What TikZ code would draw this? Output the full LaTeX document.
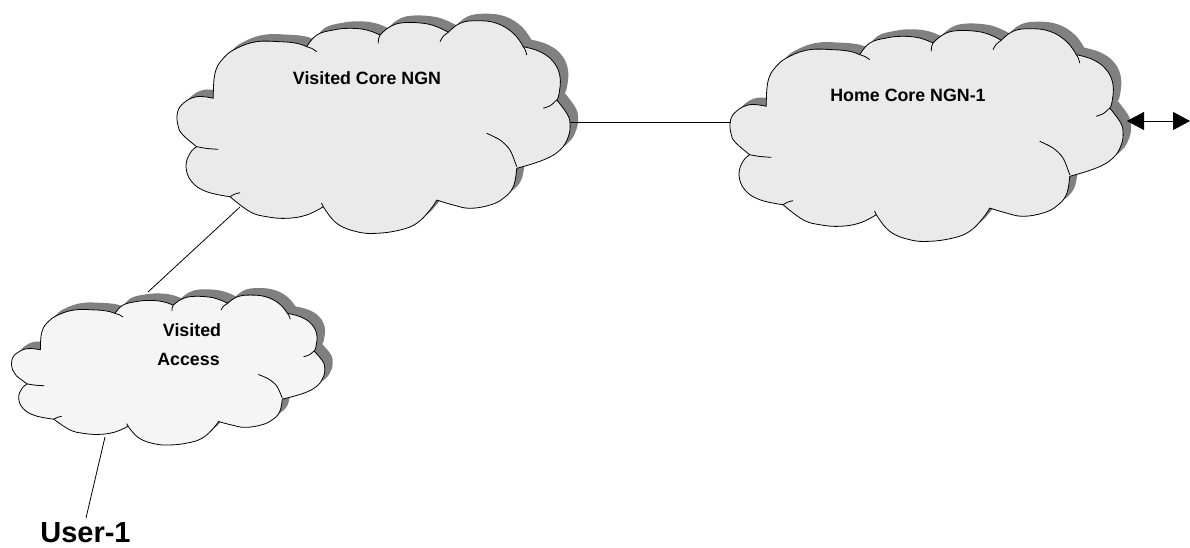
\documentclass[tikz,border=0pt]{standalone}
\usepackage{fontspec}
\setmainfont{Liberation Sans}
\usetikzlibrary{arrows.meta}

\definecolor{cloudshade}{HTML}{808080}
\definecolor{corefill}{HTML}{EAEAEA}
\definecolor{accfill}{HTML}{F5F5F5}

% Outline of the network cloud, in its own 393 x 212 frame
\newcommand\cloudoutline{%
  plot[smooth,tension=0.7] coordinates {(19.7,124.7) (6,113) (1.3,104.7) (0.3,91.3) (6.3,81.3) (19.7,74.7) (36.3,76.3)}
  -- plot[smooth,tension=0.7] coordinates {(36.3,76.3) (38,51.3) (46.3,36.3) (59.7,26.3) (79.7,19.7) (103,19.7) (119.7,21.3) (129.7,24.7)}
  -- plot[smooth,tension=0.7] coordinates {(129.7,24.7) (139.7,13) (156.3,8) (173,6.3) (189.7,8) (203,13)}
  -- plot[smooth,tension=0.7] coordinates {(203,13) (213,4.7) (226.3,0.7) (246.3,1.3) (259.7,4.7) (271.3,10.3)}
  -- plot[smooth,tension=0.7] coordinates {(271.3,10.3) (283,1.3) (299.7,-1.3) (319.7,1.3) (336.3,11.3) (346.3,24.7)}
  -- plot[smooth,tension=0.7] coordinates {(346.3,24.7) (363,29.7) (376.3,39.7) (383,54.7) (382,72) (379.7,78)}
  -- plot[smooth,tension=0.7] coordinates {(379.7,78) (389.7,91.3) (393,101.3) (391.3,114.7) (383,128) (366.3,138) (339.7,146.3)}
  -- plot[smooth,tension=0.7] coordinates {(339.7,146.3) (336.3,164.7) (326.3,176.3) (313,183) (293,186.3) (276.3,183) (259.7,178)}
  -- plot[smooth,tension=0.7] coordinates {(259.7,178) (253,188) (239.7,201.3) (223,208) (199.7,211.3) (179.7,209.7) (159.7,201.3) (146.3,184.7)}
  -- plot[smooth,tension=0.7] coordinates {(146.3,184.7) (129.7,193) (109.7,196.3) (89.7,194.7) (73,189.7) (53,174.7)}
  -- plot[smooth,tension=0.7] coordinates {(53,174.7) (29.7,169.7) (14.7,159.7) (9,144.7) (13,131.3) (19.7,124.7)}
  -- cycle}

% Short inner arcs where the puffs overlap
\newcommand\cloudticks{%
  plot[smooth] coordinates {(129.7,24.7) (135,26.5) (139.7,29.7)}
  plot[smooth] coordinates {(203,13) (201.5,17) (201.3,21.3)}
  plot[smooth] coordinates {(271.3,10.3) (266,14.5) (263,19.7)}
  plot[smooth] coordinates {(346.3,24.7) (348.5,28.5) (349.7,33)}
  plot[smooth] coordinates {(379.7,78) (373.5,83.5) (366.3,86.3)}
  plot[smooth] coordinates {(309.7,111.3) (323,118) (333,128) (339.7,144.7)}
  plot[smooth] coordinates {(146.3,184.7) (144.5,181)}
  plot[smooth] coordinates {(53,174.7) (58,172) (63,170.7)}
  plot[smooth] coordinates {(19.7,124.7) (30,126.5) (41.3,127.3)}}

% #1,#2 origin, #3,#4 scale, #5 fill colour
\newcommand\netcloud[5]{%
  \fill[cloudshade, shift={(#1+8,#2-7)}, xscale=#3, yscale=#4] \cloudoutline;
  \filldraw[cloudline, fill=#5, shift={(#1,#2)}, xscale=#3, yscale=#4] \cloudoutline;
  \draw[cloudline, shift={(#1,#2)}, xscale=#3, yscale=#4] \cloudticks;
}

\begin{document}
\begin{tikzpicture}[x=1pt, y=-1pt,
  cloudline/.style={line width=0.8pt, line join=round},
  link/.style={line width=0.8pt},
  cloudlabel/.style={font=\fontsize{17.8}{21}\selectfont\bfseries, anchor=base, inner sep=0pt},
  userlabel/.style={font=\fontsize{29}{34}\selectfont\bfseries, anchor=base, inner sep=0pt}]
  \useasboundingbox (0,0) rectangle (1190,548);

  % clouds
  \netcloud{177}{22}{1}{1}{corefill}
  \netcloud{730}{30}{1}{1}{corefill}
  \netcloud{11.5}{296}{0.797}{0.705}{accfill}

  % labels
  \node[cloudlabel] (vcore) at (367,85) {Visited Core NGN};
  \node[cloudlabel] (hcore) at (908,101.7) {Home Core NGN-1};
  \node[cloudlabel] (vacc1) at (192,336.7) {Visited};
  \node[cloudlabel] (vacc2) at (188.5,365) {Access};
  \node[userlabel] (user) at (85.5,542) {User-1};

  % attachment points on the cloud outlines
  \coordinate (vcore-e) at (570,122);
  \coordinate (hcore-w) at (731,122);
  \coordinate (vcore-sw) at (240,207);
  \coordinate (vacc-n) at (148,292);
  \coordinate (vacc-s) at (105,437);
  \coordinate (user-n) at (86,518);
  \coordinate (hcore-e) at (1127,121);
  \coordinate (far-e) at (1190,121);

  % links
  \draw[link] (vcore-e) -- (hcore-w);
  \draw[link] (vcore-sw) -- (vacc-n);
  \draw[link] (vacc-s) -- (user-n);
  \draw[link, {Triangle[length=17pt,width=18pt]}-{Triangle[length=17pt,width=18pt]}] (hcore-e) -- (far-e);
\end{tikzpicture}
\end{document}
